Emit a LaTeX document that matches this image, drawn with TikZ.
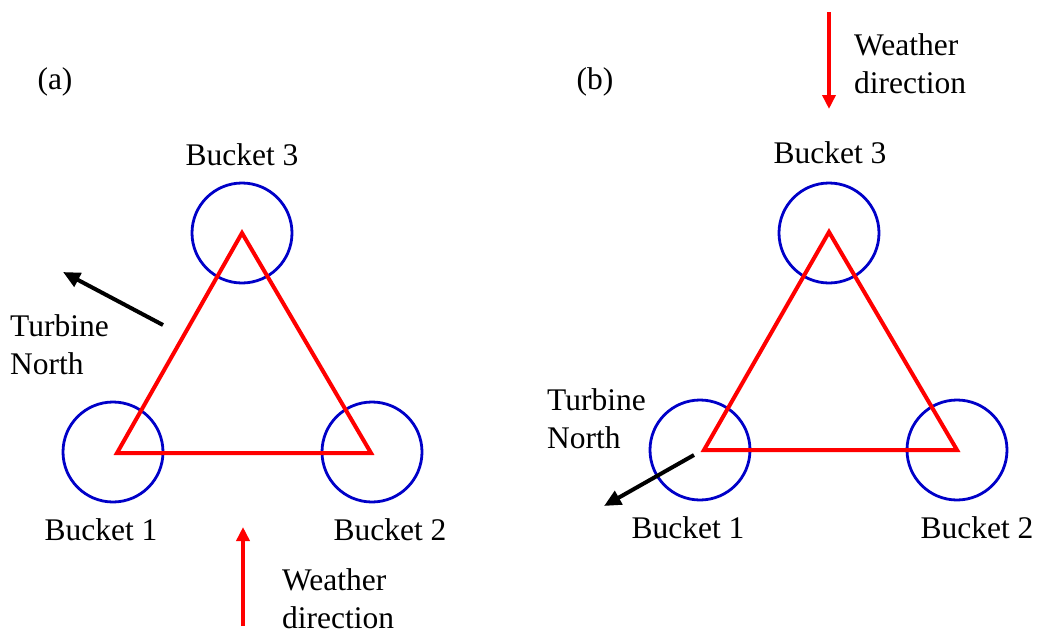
\documentclass[tikz,border=0pt]{standalone}
\usepackage{fontspec}
\setmainfont{Liberation Serif}
\usetikzlibrary{arrows.meta}
\begin{document}
\begin{tikzpicture}[x=1pt,y=-1pt,
  bucket/.style={draw={rgb,255:red,0;green,0;blue,200}, line width=2.8pt, circle, minimum size=100pt, inner sep=0pt},
  tri/.style={draw=red, line width=4pt, line join=miter},
  lbl/.style={font=\fontsize{31.5}{38}\selectfont, inner sep=0pt},
  txt/.style={font=\fontsize{31.5}{38}\selectfont, inner sep=0pt, align=left, anchor=west},
  weather/.style={draw=red, line width=3.8pt, -{Triangle[length=14pt,width=13pt]}},
  north/.style={draw=black, line width=4pt, -{Triangle[length=17pt,width=15pt]}}]
\useasboundingbox (0,0) rectangle (1037,635);
% panel (a)
\node[lbl] (la) at (55,82) {(a)};
\node[bucket] (a3) at (242,233) {};
\node[bucket] (a1) at (113,452) {};
\node[bucket] (a2) at (372,452) {};
\coordinate (ta) at (242,233);
\coordinate (tl) at (117,453);
\coordinate (tr) at (371,453);
\draw[tri] (ta) -- (tl) -- (tr) -- cycle;
\node[lbl] (b3a) at (242,155) {Bucket 3};
\node[lbl] (b1a) at (101,530) {Bucket 1};
\node[lbl] (b2a) at (390,530) {Bucket 2};
\coordinate (na0) at (163,325);
\coordinate (na1) at (63,272);
\draw[north] (na0) -- (na1);
\node[txt] (tna) at (10,345) {Turbine\\North};
\coordinate (wa0) at (243,626);
\coordinate (wa1) at (243,527);
\draw[weather] (wa0) -- (wa1);
\node[txt] (wta) at (282,599) {Weather\\direction};
% panel (b)
\node[lbl] (lb) at (595,82) {(b)};
\node[bucket] (b3) at (829,233) {};
\node[bucket] (b1) at (700,450) {};
\node[bucket] (b2) at (957,450) {};
\coordinate (tb) at (829,232);
\coordinate (tbl) at (704,450);
\coordinate (tbr) at (957,450);
\draw[tri] (tb) -- (tbl) -- (tbr) -- cycle;
\node[lbl] (b3b) at (830,153) {Bucket 3};
\node[lbl] (b1b) at (688,528) {Bucket 1};
\node[lbl] (b2b) at (977,528) {Bucket 2};
\coordinate (nb0) at (694,455);
\coordinate (nb1) at (604,506);
\draw[north] (nb0) -- (nb1);
\node[txt] (tnb) at (547,419) {Turbine\\North};
\coordinate (wb0) at (829,12);
\coordinate (wb1) at (829,109);
\draw[weather] (wb0) -- (wb1);
\node[txt] (wtb) at (854,64) {Weather\\direction};
\end{tikzpicture}
\end{document}
